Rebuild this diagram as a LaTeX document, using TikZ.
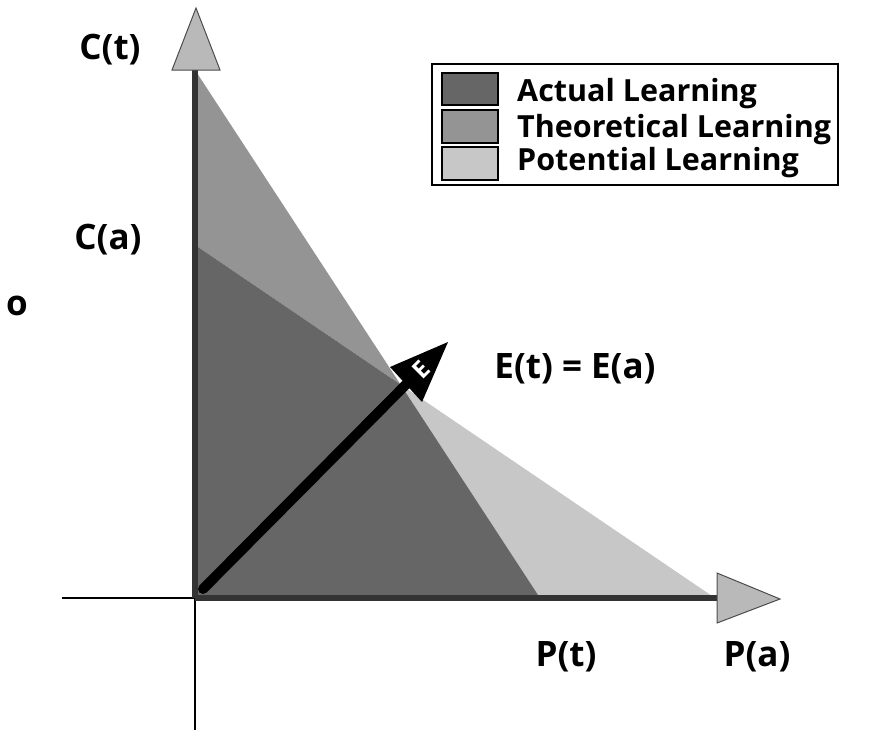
\documentclass[tikz,border=0pt]{standalone}
\usepackage{fontspec}
\setmainfont{Open Sans}
\usetikzlibrary{shapes.geometric}
\definecolor{actcol}{gray}{0.40}
\definecolor{theocol}{gray}{0.58}
\definecolor{potcol}{gray}{0.78}
\begin{document}
\begin{tikzpicture}[x=1pt,y=-1pt,
  lbl/.style={font=\fontsize{35}{37}\selectfont\bfseries, inner sep=0pt},
  leglbl/.style={font=\fontsize{30.5}{32}\selectfont\bfseries, inner sep=0pt, anchor=base west},
  axisline/.style={draw=black!80, line width=6pt},
  thinline/.style={draw=black, line width=1.5pt},
  axhead/.style={fill=gray!55, draw=black!70, line width=1pt},
  swatch/.style={draw=black, line width=1.5pt}]
\useasboundingbox (0,0) rectangle (875,740);
% key points
\coordinate (O) at (195,598);
\coordinate (Ct) at (195,70);
\coordinate (Ca) at (195,245);
\coordinate (Pt) at (540,598);
\coordinate (Pa) at (715,598);
\coordinate (X) at (400.5,384.5);
\coordinate (Lend) at (62,598);
\coordinate (Bend) at (195,730);
\coordinate (Xend) at (717,598);
% regions
\fill[theocol] (Ct) -- (Ca) -- (X) -- cycle;
\fill[potcol] (X) -- (Pt) -- (Pa) -- cycle;
\fill[actcol] (O) -- (Ca) -- (X) -- (Pt) -- cycle;
% thin axis continuations
\draw[thinline] (Lend) -- (O) -- (Bend);
% thick axes
\draw[axisline] (O) -- (Ct);
\draw[axisline] (O) -- (Xend);
\filldraw[axhead] (172,70) -- (220,70) -- (196,8) -- cycle;
\filldraw[axhead] (717,573) -- (717,623) -- (780,599) -- cycle;
% E vector
\coordinate (Es) at (203,589);
\coordinate (Eb) at (406,384.5);
\draw[black, line width=10pt, line cap=round] (Es) -- (Eb);
\fill[black] (390,367) -- (448,342) -- (422,402) -- cycle;
\node[rotate=45, text=white, font=\fontsize{24}{24}\selectfont\bfseries, inner sep=0pt] (Elab) at (421,370) {E};
% labels
\node[lbl] (Ctl) at (110,50) {C(t)};
\node[lbl] (Cal) at (108,240) {C(a)};
\node[lbl] (Ol) at (17,306) {o};
\node[lbl] (Eq) at (575,369) {E(t) = E(a)};
\node[lbl] (Ptl) at (566,657) {P(t)};
\node[lbl] (Pal) at (757,657) {P(a)};
% legend
\draw[line width=1.5pt] (432,64) rectangle (838,185);
\filldraw[swatch, fill=actcol] (442,73) rectangle (498,105);
\filldraw[swatch, fill=theocol] (442,110) rectangle (498,143);
\filldraw[swatch, fill=potcol] (442,147) rectangle (498,180);
\node[leglbl] (L1) at (517,101) {Actual Learning};
\node[leglbl] (L2) at (517,137) {Theoretical Learning};
\node[leglbl] (L3) at (517,170) {Potential Learning};
\end{tikzpicture}
\end{document}
